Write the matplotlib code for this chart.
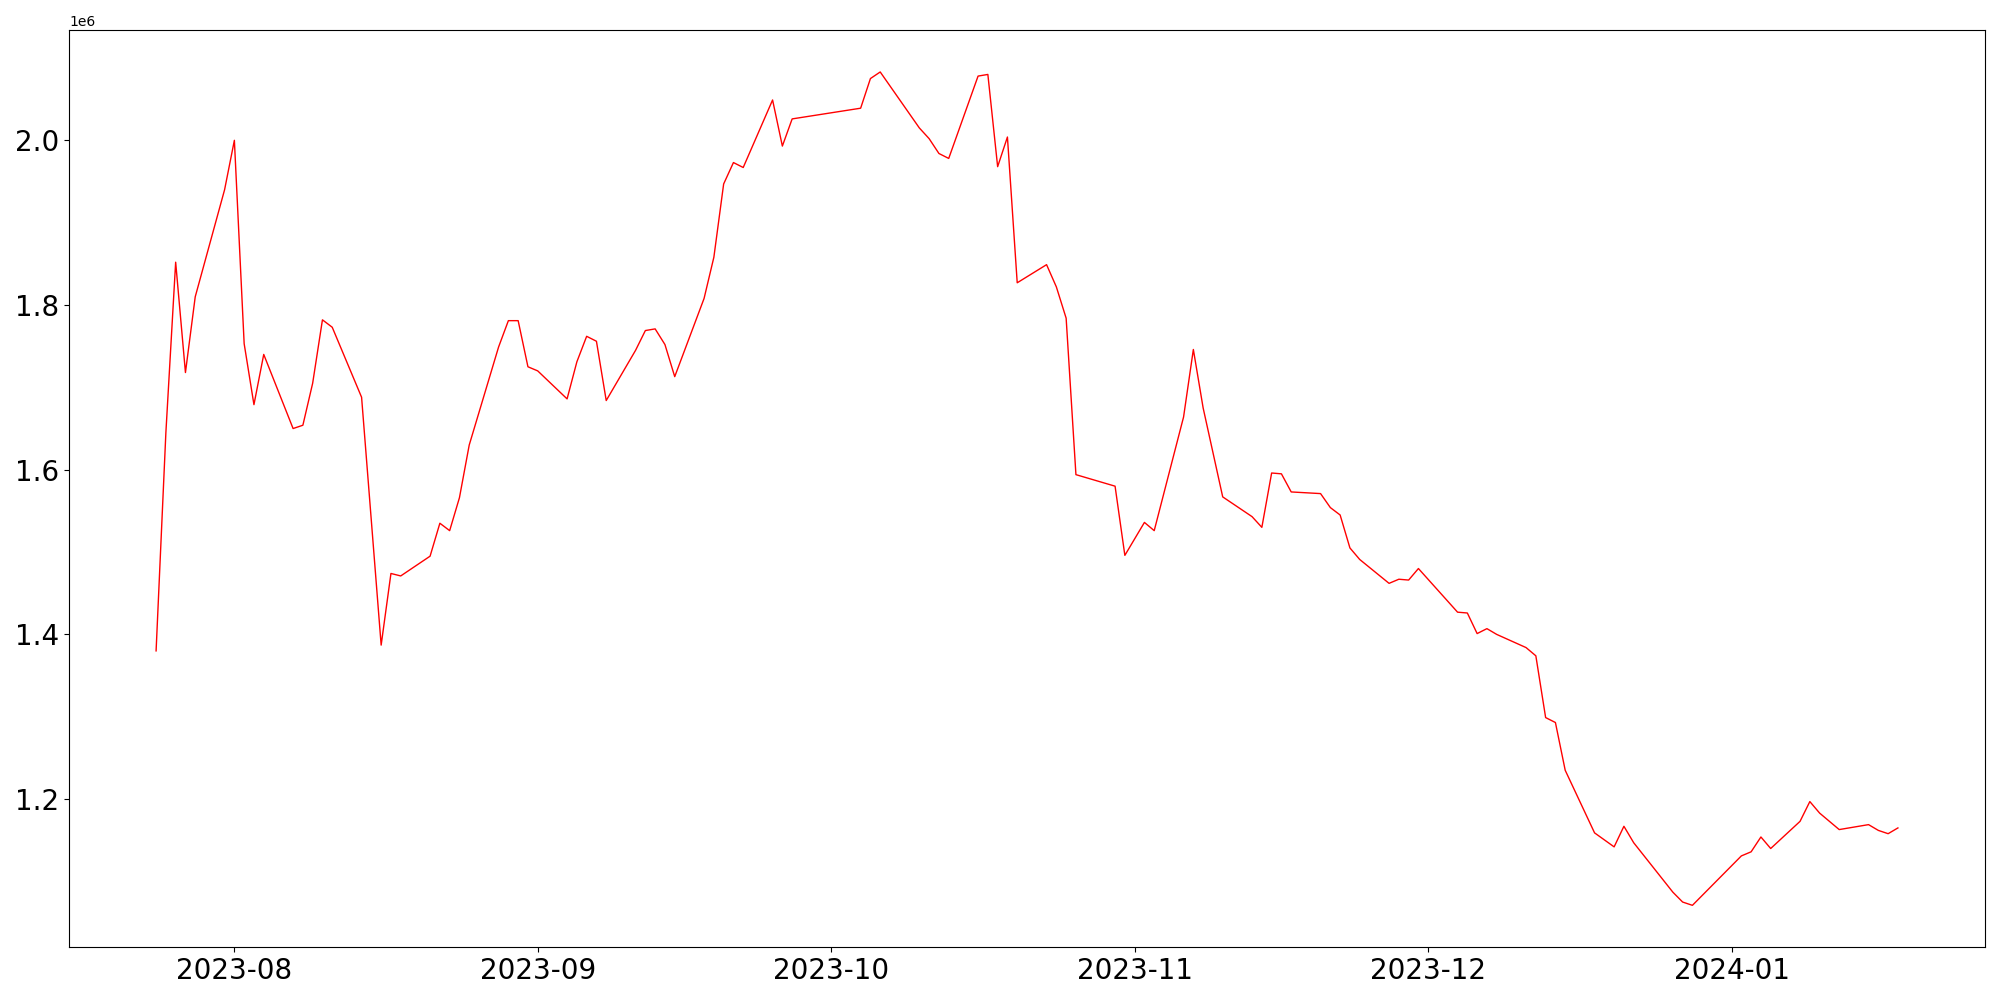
import matplotlib
matplotlib.use("Agg")
import matplotlib.pyplot as plt
import pandas as pd
import numpy as np

dates = [
    "2023-07-24", "2023-07-25", "2023-07-26", "2023-07-27", "2023-07-28",
    "2023-07-31", "2023-08-01", "2023-08-02", "2023-08-03", "2023-08-04",
    "2023-08-07", "2023-08-08", "2023-08-09", "2023-08-10", "2023-08-11",
    "2023-08-14", "2023-08-16", "2023-08-17", "2023-08-18",
    "2023-08-21", "2023-08-22", "2023-08-23", "2023-08-24", "2023-08-25",
    "2023-08-28", "2023-08-29", "2023-08-30", "2023-08-31", "2023-09-01",
    "2023-09-04", "2023-09-05", "2023-09-06", "2023-09-07", "2023-09-08",
    "2023-09-11", "2023-09-12", "2023-09-13", "2023-09-14", "2023-09-15",
    "2023-09-18", "2023-09-19", "2023-09-20", "2023-09-21", "2023-09-22",
    "2023-09-25", "2023-09-26", "2023-09-27",
    "2023-10-04", "2023-10-05", "2023-10-06",
    "2023-10-10", "2023-10-11", "2023-10-12", "2023-10-13",
    "2023-10-16", "2023-10-17", "2023-10-18", "2023-10-19", "2023-10-20",
    "2023-10-23", "2023-10-24", "2023-10-25", "2023-10-26",
    "2023-10-30", "2023-10-31", "2023-11-02", "2023-11-03",
    "2023-11-06", "2023-11-07", "2023-11-08", "2023-11-10",
    "2023-11-13", "2023-11-14", "2023-11-15", "2023-11-16", "2023-11-17",
    "2023-11-20", "2023-11-21", "2023-11-22", "2023-11-23", "2023-11-24",
    "2023-11-27", "2023-11-28", "2023-11-29", "2023-11-30",
    "2023-12-04", "2023-12-05", "2023-12-06", "2023-12-07", "2023-12-08",
    "2023-12-11", "2023-12-12", "2023-12-13", "2023-12-14", "2023-12-15",
    "2023-12-18", "2023-12-20", "2023-12-21", "2023-12-22",
    "2023-12-26", "2023-12-27", "2023-12-28",
    "2024-01-02", "2024-01-03", "2024-01-04", "2024-01-05",
    "2024-01-08", "2024-01-09", "2024-01-10", "2024-01-12",
    "2024-01-15", "2024-01-16", "2024-01-17", "2024-01-18",
]

values_m = [
    1.380, 1.645, 1.852, 1.718, 1.810,
    1.940, 2.000, 1.753, 1.679, 1.740,
    1.650, 1.654, 1.705, 1.782, 1.773,
    1.688, 1.387, 1.474, 1.471,
    1.495, 1.535, 1.526, 1.566, 1.630,
    1.749, 1.781, 1.781, 1.725, 1.720,
    1.686, 1.731, 1.762, 1.756, 1.684,
    1.745, 1.769, 1.771, 1.752, 1.713,
    1.808, 1.858, 1.947, 1.973, 1.967,
    2.049, 1.993, 2.026,
    2.039, 2.075, 2.083,
    2.015, 2.002, 1.984, 1.978,
    2.078, 2.080, 1.968, 2.004, 1.827,
    1.849, 1.822, 1.784, 1.594,
    1.580, 1.496, 1.536, 1.526,
    1.664, 1.746, 1.675, 1.567,
    1.543, 1.530, 1.596, 1.595, 1.573,
    1.571, 1.554, 1.545, 1.505, 1.491,
    1.462, 1.467, 1.466, 1.480,
    1.427, 1.426, 1.401, 1.407, 1.400,
    1.384, 1.374, 1.299, 1.293, 1.235,
    1.159, 1.142, 1.167, 1.147,
    1.087, 1.075, 1.071,
    1.131, 1.136, 1.154, 1.140,
    1.173, 1.197, 1.183, 1.163,
    1.169, 1.162, 1.158, 1.165,
]

x = pd.to_datetime(dates)
y = np.array(values_m) * 1e6

fig = plt.figure(figsize=(20, 10), dpi=100)
ax = fig.add_axes([0.0345, 0.053, 0.958, 0.9167])
ax.plot(x, y, color="red", linewidth=1.0)
ax.tick_params(axis="both", labelsize=20)

fig.savefig("out.png", dpi=100)
